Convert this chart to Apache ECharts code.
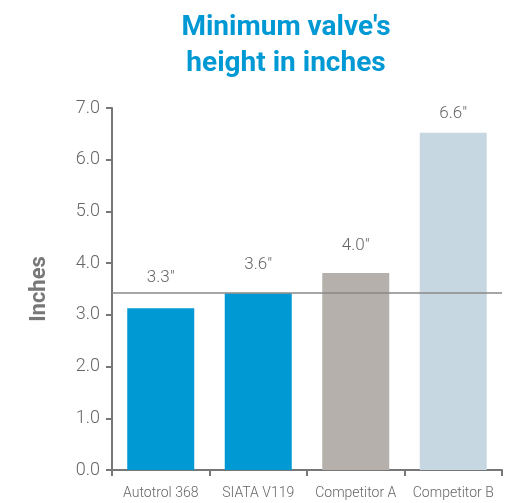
<!DOCTYPE html>
<html>
<head>
<meta charset="utf-8">
<script src="https://cdn.jsdelivr.net/npm/echarts@6/dist/echarts.min.js"></script>
<style>
html,body{margin:0;padding:0;background:#fff;}
#chart{width:529px;height:503px;}
</style>
</head>
<body>
<div id="chart"></div>
<script>
var categories = ['Autotrol 368', 'SIATA V119', 'Competitor A', 'Competitor B'];
var values = [3.13, 3.42, 3.81, 6.52];
var valueLabels = ['3.3"', '3.6"', '4.0"', '6.6"'];
var barColors = ['#0099d4', '#0099d4', '#b5b0ab', '#c6d7e2'];
var labelDistances = [22, 20, 19, 11];
var referenceLine = 3.42;
var yTicks = [0, 1, 2, 3, 4, 5, 6, 7];

var chart = echarts.init(document.getElementById('chart'));
var data = values.map(function (v, i) {
  return {
    value: v,
    itemStyle: { color: barColors[i] },
    label: { distance: labelDistances[i] }
  };
});
chart.setOption({
  animation: false,
  title: {
    text: "Minimum valve's\nheight in inches",
    left: 281,
    textAlign: 'center',
    top: 5,
    textStyle: {
      color: '#0099d4',
      fontFamily: 'Roboto',
      fontWeight: 'bold',
      fontSize: 28,
      lineHeight: 36
    }
  },
  grid: { left: 112, right: 27, top: 108, bottom: 33 },
  xAxis: {
    type: 'category',
    data: categories,
    axisLine: { lineStyle: { color: '#777', width: 2 } },
    axisTick: { show: true, length: 6, lineStyle: { color: '#777', width: 2 } },
    axisLabel: { interval: 0, hideOverlap: false, color: '#666', fontFamily: 'Roboto', fontWeight: 300, fontSize: 14, margin: 16 }
  },
  yAxis: {
    type: 'value',
    min: yTicks[0],
    max: yTicks[yTicks.length - 1],
    interval: 1,
    name: 'Inches',
    nameLocation: 'middle',
    nameGap: 62,
    nameTextStyle: { color: '#777', fontFamily: 'Roboto', fontWeight: 'bold', fontSize: 22 },
    axisLine: { show: true, lineStyle: { color: '#777', width: 2 } },
    axisTick: { show: true, length: 6, lineStyle: { color: '#777', width: 2 } },
    splitLine: { show: false },
    axisLabel: {
      color: '#666', fontFamily: 'Roboto', fontWeight: 300, fontSize: 18, margin: 12,
      formatter: function (v) { return v.toFixed(1); }
    }
  },
  series: [{
    type: 'bar',
    data: data,
    barWidth: 67,
    label: {
      show: true,
      position: 'top',
      color: '#666',
      fontFamily: 'Roboto',
      fontWeight: 300,
      fontSize: 17,
      formatter: function (p) { return valueLabels[p.dataIndex]; }
    },
    markLine: {
      silent: true,
      symbol: ['none', 'none'],
      label: { show: false },
      lineStyle: { color: '#888', width: 1.5, type: 'solid' },
      data: [{ yAxis: referenceLine }]
    }
  }]
});
</script>
</body>
</html>
